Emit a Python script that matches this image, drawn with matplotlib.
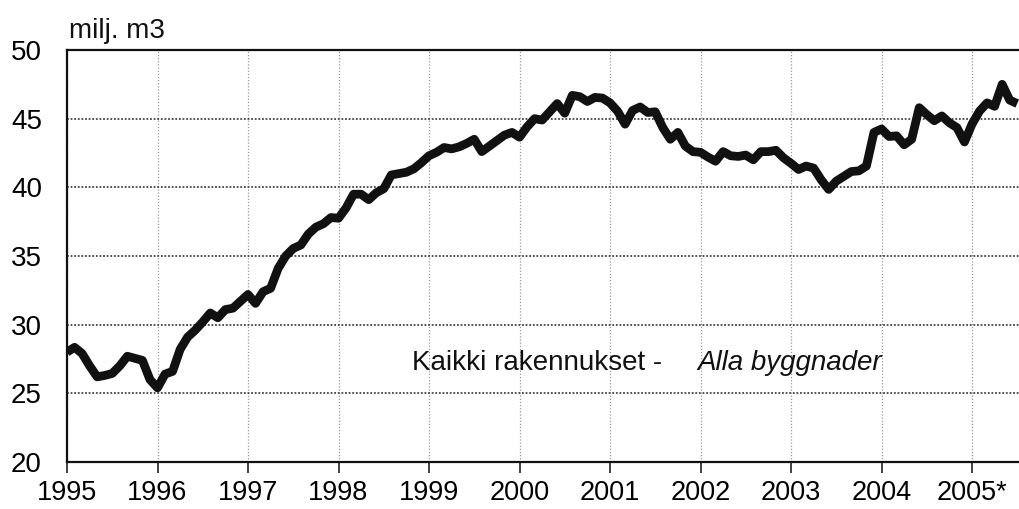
#-*-coding:UTF-8
import numpy as np
import matplotlib.pyplot as plt

plt.rcParams['font.family'] = ['Liberation Sans', 'DejaVu Sans']

# kuukausiarvot, milj. m3 (luettu kuvasta)
y1995 = [28.0, 28.35, 27.9, 27.0, 26.2, 26.3, 26.45, 27.0, 27.7, 27.55, 27.4, 26.0]
y1996 = [25.4, 26.4, 26.6, 28.2, 29.1, 29.6, 30.2, 30.85, 30.5, 31.1, 31.2, 31.7]
y1997 = [32.2, 31.55, 32.4, 32.65, 34.1, 35.0, 35.55, 35.8, 36.6, 37.1, 37.35, 37.8]
y1998 = [37.75, 38.5, 39.5, 39.5, 39.1, 39.6, 39.9, 40.9, 41.0, 41.1, 41.35, 41.8]
y1999 = [42.3, 42.55, 42.9, 42.8, 42.95, 43.2, 43.5, 42.6, 43.0, 43.4, 43.8, 44.0]
y2000 = [43.65, 44.4, 45.0, 44.9, 45.5, 46.1, 45.4, 46.7, 46.6, 46.25, 46.55, 46.5]
y2001 = [46.15, 45.55, 44.6, 45.6, 45.85, 45.45, 45.5, 44.35, 43.5, 44.0, 43.0, 42.6]
y2002 = [42.55, 42.2, 41.9, 42.6, 42.3, 42.25, 42.35, 42.0, 42.6, 42.6, 42.7, 42.15]
y2003 = [41.75, 41.3, 41.55, 41.4, 40.55, 39.85, 40.45, 40.8, 41.15, 41.2, 41.55, 44.0]
y2004 = [44.25, 43.7, 43.75, 43.1, 43.5, 45.8, 45.3, 44.85, 45.2, 44.7, 44.35, 43.3]
y2005 = [44.6, 45.55, 46.15, 45.9, 47.5, 46.35, 46.1]

years = list(range(1995, 2006))
year_labels = ['1995', '1996', '1997', '1998', '1999', '2000',
               '2001', '2002', '2003', '2004', '2005*']
yticks = [20, 25, 30, 35, 40, 45, 50]

values = (y1995 + y1996 + y1997 + y1998 + y1999 + y2000 +
          y2001 + y2002 + y2003 + y2004 + y2005)
x = 1995 + np.arange(len(values)) / 12.0

W, H = 1019, 509
fig = plt.figure(figsize=(W / 100, H / 100), dpi=100)
ax = fig.add_axes([67 / W, 1 - 462 / H, (W - 67) / W, (462 - 50) / H])

ax.plot(x, values, color='#111111', lw=6.3, solid_joinstyle='round',
        solid_capstyle='butt', zorder=3)

ax.set_xlim(1995, 1995 + (W - 67) / 90.5)
ax.set_ylim(20, 50)
ax.set_xticks(years)
ax.set_xticklabels(year_labels)
ax.set_yticks(yticks)

ax.tick_params(axis='x', length=8, width=1.2, pad=5, labelsize=19.5,
               direction='out', color='#222222')
ax.tick_params(axis='y', length=0, pad=18, labelsize=20)

ax.grid(axis='y', color='#444444', lw=1.3, linestyle=(0, (1, 1)))
ax.grid(axis='x', color='#9a9a9a', lw=0.9, linestyle=(0, (1, 1.5)))
ax.set_axisbelow(True)

for s in ['left', 'bottom', 'top']:
    ax.spines[s].set_linewidth(1.6)
    ax.spines[s].set_color('#111111')
ax.spines['right'].set_visible(False)

ax.text(1998.81, 26.7, 'Kaikki rakennukset -', fontsize=20,
        va='baseline', ha='left', color='#111111')
ax.text(2001.97, 26.7, 'Alla byggnader', fontsize=20, style='italic',
        va='baseline', ha='left', color='#111111')

fig.text(69 / W, 1 - 37.5 / H, 'milj. m3', fontsize=20, va='baseline',
         ha='left', color='#111111')

fig.savefig('out.png', dpi=100)
